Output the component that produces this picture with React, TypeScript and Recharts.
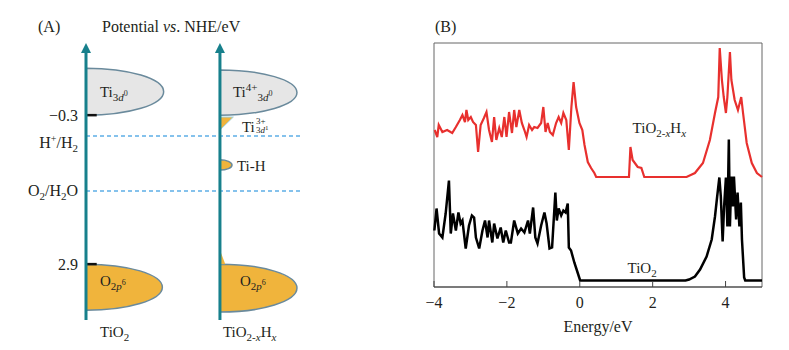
import React from "react";
import {
  ComposedChart,
  Line,
  Scatter,
  XAxis,
  YAxis,
  ReferenceArea,
  ReferenceLine,
} from "recharts";

const SERIF = "'Liberation Serif', 'Times New Roman', serif";
const INK = "#231f20";
const TEAL = "#17808c";
const BAND_EDGE = "#6a8a9c";
const CB_FILL = "#e6e6e6";
const VB_FILL = "#f0b43c";
const DASH = "#5eaee6";

// ---- (A) band scheme, potential vs NHE (schematic scale as drawn) ----
const columnPos = [0, 1];
const columnNames = ["tio2", "tio2xhx"];
const levelPos = [-0.3, 0.15, 1.33, 2.9];
const levelNames = ["-0.3", "hplus", "o2h2o", "2.9"];
const redoxLevels = [0.15, 1.33];
const edgeMarks = [-0.3, 2.9];

const bandKind = ["ti3d", "ti3d", "ti3plus", "tih", "o2p", "o2p", "o2pTail"];
const bandCol = [0, 1, 1, 1, 0, 1, 1];
const bandTop = [-1.31, -1.27, -0.26, 0.66, 2.9, 2.9, 2.6];
const bandBottom = [-0.3, -0.3, 0.02, 0.88, 3.89, 3.93, 2.9];
const bandWidth = [0.58, 0.575, 0.1, 0.09, 0.57, 0.575, 0.04];

const bandLabelIds = ["ti3d0", "ti4", "ti3", "tih", "o2p", "o2p"];
const bandLabelX = [0.104, 1.097, 1.164, 1.127, 0.104, 1.149];
const bandLabelY = [-0.69, -0.69, 0.06, 0.9, 3.36, 3.36];

// ---- (B) DOS vs energy ----
const energyTicks = [-4, -2, 0, 2, 4];

const tio2Energy = [
  -3.99, -3.93, -3.86, -3.77, -3.68, -3.59, -3.54, -3.48, -3.4, -3.33, -3.27,
  -3.22, -3.13, -3.04, -2.96, -2.9, -2.85, -2.76, -2.67, -2.6, -2.53, -2.49,
  -2.4, -2.35, -2.26, -2.17, -2.1, -2.03, -1.94, -1.89, -1.8, -1.7, -1.61,
  -1.52, -1.42, -1.37, -1.28, -1.22, -1.16, -1.06, -0.97, -0.91, -0.83, -0.76,
  -0.67, -0.63, -0.58, -0.51, -0.45, -0.39, -0.33, -0.3, -0.24, -0.15, -0.06,
  0.01, 2.9, 3.0, 3.16, 3.3, 3.48, 3.62, 3.71, 3.77, 3.83, 3.87, 3.92, 3.96,
  4.01, 4.05, 4.09, 4.12, 4.16, 4.2, 4.23, 4.29, 4.33, 4.38, 4.42, 4.45, 4.51,
  4.54, 5.0,
];
const tio2Dos = [
  50, 72, 47, 43, 67, 100, 47, 67, 50, 68, 57, 60, 32, 55, 65, 63, 43, 32, 50,
  60, 43, 60, 38, 57, 42, 53, 38, 50, 38, 38, 60, 47, 52, 48, 60, 47, 73, 43,
  37, 55, 68, 57, 32, 33, 88, 60, 72, 65, 70, 68, 77, 33, 30, 18, 8, 0, 0, 1,
  4, 11, 24, 41, 64, 84, 103, 84, 39, 74, 103, 54, 141, 54, 104, 74, 104, 61,
  88, 54, 78, 41, 3, 0, 0,
];

const tio2hEnergy = [
  -3.98, -3.91, -3.87, -3.77, -3.64, -3.5, -3.4, -3.29, -3.22, -3.15, -3.11,
  -3.06, -2.99, -2.93, -2.85, -2.79, -2.72, -2.63, -2.56, -2.49, -2.41, -2.35,
  -2.29, -2.21, -2.14, -2.07, -2.01, -1.94, -1.86, -1.8, -1.74, -1.66, -1.59,
  -1.52, -1.46, -1.39, -1.31, -1.25, -1.16, -1.06, -1.0, -0.94, -0.88, -0.82,
  -0.74, -0.65, -0.58, -0.51, -0.45, -0.37, -0.3, -0.23, -0.17, -0.1, -0.01,
  0.07, 0.13, 0.22, 0.31, 0.4, 0.45, 1.35, 1.39, 1.45, 1.59, 1.69, 1.77, 2.93,
  3.16, 3.38, 3.57, 3.71, 3.8, 3.84, 3.9, 3.95, 4.01, 4.05, 4.12, 4.16, 4.25,
  4.34, 4.43, 4.48, 4.58, 4.72, 4.86, 5.0,
];
const tio2hDos = [
  47, 40, 52, 45, 47, 44, 50, 57, 62, 55, 67, 57, 60, 55, 52, 25, 52, 59, 65,
  47, 35, 60, 37, 49, 40, 60, 40, 65, 44, 67, 50, 67, 54, 47, 40, 52, 47, 50,
  49, 54, 70, 45, 54, 45, 42, 54, 60, 54, 64, 57, 27, 70, 95, 70, 54, 47, 32,
  15, 9, 4, 0, 0, 30, 17, 10, 9, 0, 0, 4, 14, 37, 64, 80, 129, 97, 80, 64, 80,
  125, 97, 77, 67, 80, 64, 34, 14, 4, 0,
];

// vertical offsets used to stack the two curves
const TIO2_BASE = 6.5;
const TIO2H_BASE = 110;

const curveLabelIds = ["tio2xhx", "tio2"];
const curveLabelE = [1.45, 1.31];
const curveLabelV = [154, 14];

const fmtE = (v: number) => (v < 0 ? `\u2212${Math.abs(v)}` : `${v}`);

function Rich({ id, x, y, size = 15 }: { id: string; x: number; y: number; size?: number }) {
  const base = { fontFamily: SERIF, fill: INK, fontSize: size };
  const sub = Math.round(size * 0.72);
  const tiny = Math.round(size * 0.55);
  switch (id) {
    case "ti3d0":
      return (
        <text x={x} y={y} {...base}>
          Ti
          <tspan fontSize={sub} dy={4}>3</tspan>
          <tspan fontSize={sub} fontStyle="italic">d</tspan>
          <tspan fontSize={tiny} dy={-5}>0</tspan>
        </text>
      );
    case "ti4":
      return (
        <text x={x} y={y} {...base}>
          Ti
          <tspan fontSize={sub} dy={-6}>4+</tspan>
          <tspan fontSize={sub} dy={10}>3</tspan>
          <tspan fontSize={sub} fontStyle="italic">d</tspan>
          <tspan fontSize={tiny} dy={-5}>0</tspan>
        </text>
      );
    case "ti3":
      return (
        <g>
          <text x={x} y={y} {...base}>Ti</text>
          <text x={x + 14} y={y - 8} {...base} fontSize={9}>3+</text>
          <text x={x + 14} y={y + 1} {...base} fontSize={9}>
            3<tspan fontStyle="italic">d</tspan>
            <tspan fontSize={7} dy={-3}>1</tspan>
          </text>
        </g>
      );
    case "tih":
      return (
        <text x={x} y={y} {...base}>Ti-H</text>
      );
    case "o2p":
      return (
        <text x={x} y={y} {...base}>
          O
          <tspan fontSize={sub} dy={4}>2</tspan>
          <tspan fontSize={sub} fontStyle="italic">p</tspan>
          <tspan fontSize={tiny} dy={-5}>6</tspan>
        </text>
      );
    case "tio2":
      return (
        <text x={x} y={y} {...base}>
          TiO<tspan fontSize={sub} dy={4}>2</tspan>
        </text>
      );
    case "tio2xhx":
      return (
        <text x={x} y={y} {...base}>
          TiO<tspan fontSize={sub} dy={4}>2-</tspan>
          <tspan fontSize={sub} fontStyle="italic">x</tspan>
          <tspan dy={-4}>H</tspan>
          <tspan fontSize={sub} fontStyle="italic" dy={4}>x</tspan>
        </text>
      );
    default:
      return null;
  }
}

function LevelTick(p: any) {
  const i = levelPos.indexOf(p.payload.value);
  const name = levelNames[i];
  const base = { fontFamily: SERIF, fill: INK, fontSize: 16, textAnchor: "end" as const };
  if (name === "hplus") {
    return (
      <text x={p.x} y={p.y + 12} {...base}>
        H<tspan fontSize={10} dy={-6}>+</tspan>
        <tspan dy={6}>/H</tspan>
        <tspan fontSize={11} dy={4}>2</tspan>
      </text>
    );
  }
  if (name === "o2h2o") {
    return (
      <text x={p.x} y={p.y + 5} {...base}>
        O<tspan fontSize={11} dy={4}>2</tspan>
        <tspan dy={-4}>/H</tspan>
        <tspan fontSize={11} dy={4}>2</tspan>
        <tspan dy={-4}>O</tspan>
      </text>
    );
  }
  return (
    <text x={p.x} y={p.y + 6} {...base}>
      {name.replace("-", "\u2212")}
    </text>
  );
}

// column name sits a little right of each vertical axis
const columnLabelShift = [14, 3];

function ColumnTick(p: any) {
  const i = columnPos.indexOf(p.payload.value);
  return <Rich id={columnNames[i]} x={p.x + columnLabelShift[i]} y={p.y + 17} />;
}

function EnergyTick(p: any) {
  return (
    <g>
      <line x1={p.x} y1={p.y} x2={p.x} y2={p.y - 6} stroke="#444" strokeWidth={1} />
      <text x={p.x} y={p.y + 21} textAnchor="middle" fontFamily={SERIF} fontSize={16} fill={INK}>
        {fmtE(p.payload.value)}
      </text>
    </g>
  );
}

const halfBand = (fill: string) => (p: any) => (
  <path
    d={`M${p.x},${p.y} A${p.width},${p.height / 2} 0 0 1 ${p.x},${p.y + p.height} Z`}
    fill={fill}
    stroke={BAND_EDGE}
    strokeWidth={1.5}
  />
);

const wedge = (p: any) => (
  <path
    d={`M${p.x},${p.y} L${p.x + p.width},${p.y} L${p.x},${p.y + p.height} Z`}
    fill={VB_FILL}
    stroke="#9fd3e0"
    strokeWidth={1}
  />
);

const sliver = (p: any) => (
  <path
    d={`M${p.x},${p.y} L${p.x + p.width},${p.y + p.height} L${p.x},${p.y + p.height} Z`}
    fill={VB_FILL}
  />
);

const bandShape: Record<string, (p: any) => React.ReactElement> = {
  ti3d: halfBand(CB_FILL),
  ti3plus: wedge,
  tih: halfBand(VB_FILL),
  o2p: halfBand(VB_FILL),
  o2pTail: sliver,
};

const arrowAxis = (p: any) => {
  const top = Math.min(p.y1, p.y2);
  const bottom = Math.max(p.y1, p.y2);
  return (
    <g>
      <line x1={p.x1} y1={bottom} x2={p.x1} y2={top + 8} stroke={TEAL} strokeWidth={3} />
      <polygon
        points={`${p.x1},${top} ${p.x1 - 5},${top + 10} ${p.x1 + 5},${top + 10}`}
        fill={TEAL}
      />
    </g>
  );
};

function BandScheme() {
  const labels = bandLabelIds.map((id, i) => ({ id, x: bandLabelX[i], y: bandLabelY[i] }));
  return (
    <ComposedChart width={420} height={350} margin={{ top: 43, right: 117, bottom: 0, left: 6 }}>
      <XAxis
        type="number"
        dataKey="x"
        domain={[0, 1.62]}
        ticks={columnPos}
        interval={0}
        height={30}
        tickSize={0}
        tickMargin={0}
        axisLine={false}
        tickLine={false}
        tick={(p: any) => <ColumnTick {...p} />}
      />
      <YAxis
        type="number"
        dataKey="y"
        domain={[-1.85, 4.1]}
        reversed
        ticks={levelPos}
        interval={0}
        width={80}
        tickSize={0}
        tickMargin={8}
        axisLine={false}
        tickLine={false}
        tick={(p: any) => <LevelTick {...p} />}
      />
      {bandKind.map((k, i) => (
        <ReferenceArea
          key={`band-${i}`}
          x1={columnPos[bandCol[i]]}
          x2={columnPos[bandCol[i]] + bandWidth[i]}
          y1={bandTop[i]}
          y2={bandBottom[i]}
          ifOverflow="visible"
          shape={bandShape[k]}
        />
      ))}
      {redoxLevels.map((v) => (
        <ReferenceLine
          key={`lvl-${v}`}
          y={v}
          stroke={DASH}
          strokeWidth={1.5}
          strokeDasharray="4 3"
          ifOverflow="visible"
        />
      ))}
      {edgeMarks.map((v) => (
        <ReferenceLine
          key={`edge-${v}`}
          segment={[
            { x: 0, y: v },
            { x: 0.08, y: v },
          ]}
          stroke="#111"
          strokeWidth={2.5}
          ifOverflow="visible"
        />
      ))}
      {columnPos.map((c) => (
        <ReferenceLine
          key={`col-${c}`}
          segment={[
            { x: c, y: 4.1 },
            { x: c, y: -1.85 },
          ]}
          ifOverflow="visible"
          shape={arrowAxis}
        />
      ))}
      <Scatter
        data={labels}
        dataKey="y"
        isAnimationActive={false}
        shape={(p: any) => <Rich id={p.payload.id} x={p.cx} y={p.cy} />}
      />
    </ComposedChart>
  );
}

function DosChart() {
  const tio2Rows = tio2Energy.map((e, i) => ({ e, v: tio2Dos[i] + TIO2_BASE }));
  const tio2hRows = tio2hEnergy.map((e, i) => ({ e, v: tio2hDos[i] + TIO2H_BASE }));
  const labels = curveLabelIds.map((id, i) => ({ id, e: curveLabelE[i], v: curveLabelV[i] }));
  return (
    <ComposedChart width={369} height={350} margin={{ top: 43, right: 27, bottom: 18, left: 14 }}>
      <XAxis
        type="number"
        dataKey="e"
        domain={[-4, 5]}
        ticks={energyTicks}
        interval={0}
        height={45}
        tickSize={0}
        tickMargin={0}
        tickLine={false}
        axisLine={{ stroke: "#444", strokeWidth: 1.2 }}
        tick={(p: any) => <EnergyTick {...p} />}
        label={{
          value: "Energy/eV",
          position: "insideBottom",
          offset: 0,
          fill: INK,
          fontSize: 16,
          fontFamily: SERIF,
        }}
      />
      <YAxis type="number" dataKey="v" domain={[0, 244]} hide />
      <ReferenceArea
        x1={-4}
        x2={5}
        y1={0}
        y2={244}
        fill="none"
        fillOpacity={0}
        stroke="#666"
        strokeWidth={1}
        ifOverflow="visible"
      />
      <Line
        data={tio2hRows}
        dataKey="v"
        type="linear"
        stroke="#e8302e"
        strokeWidth={2.2}
        dot={false}
        isAnimationActive={false}
      />
      <Line
        data={tio2Rows}
        dataKey="v"
        type="linear"
        stroke="#000"
        strokeWidth={2.5}
        dot={false}
        isAnimationActive={false}
      />
      <Scatter
        data={labels}
        dataKey="v"
        isAnimationActive={false}
        shape={(p: any) => <Rich id={p.payload.id} x={p.cx} y={p.cy} />}
      />
    </ComposedChart>
  );
}

const panelText: React.CSSProperties = {
  position: "absolute",
  top: 18,
  fontFamily: SERIF,
  fontSize: 16,
  lineHeight: "18px",
  color: INK,
  whiteSpace: "nowrap",
};

export default function App() {
  return (
    <div style={{ position: "absolute", left: 0, top: 0, width: 789, height: 350, background: "#fff" }}>
      <div style={{ position: "absolute", left: 0, top: 0 }}>
        <BandScheme />
      </div>
      <div style={{ position: "absolute", left: 420, top: 0 }}>
        <DosChart />
      </div>
      <div style={{ ...panelText, left: 38 }}>(A)</div>
      <div style={{ ...panelText, left: 102 }}>
        Potential <i>vs</i>. NHE/eV
      </div>
      <div style={{ ...panelText, left: 435 }}>(B)</div>
    </div>
  );
}
